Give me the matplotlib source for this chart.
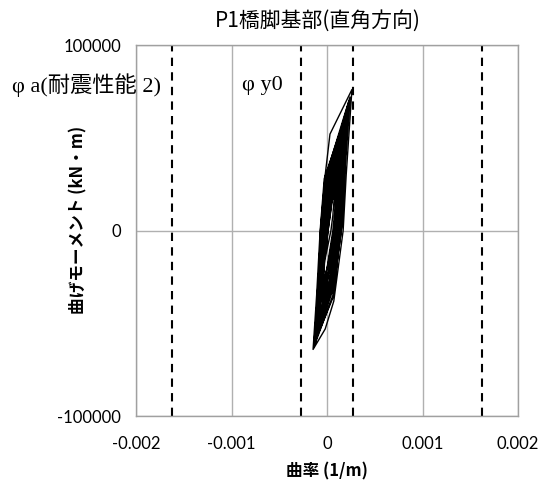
import matplotlib
matplotlib.use('Agg')
import matplotlib.pyplot as plt

plt.rcParams['font.family'] = ['Noto Sans CJK JP', 'DejaVu Sans']

# curvature (1/m) and moment (kN.m) along the response path, read off the loops
# (one row = one half cycle, same length in both lists)
curvature = [
    0.0, 0.00004, 0.00010,
    0.00008, 0.00006, 0.00000, -0.00006,
    -0.00004, -0.00002, 0.00003, 0.00016,
    0.00013, 0.00011, 0.00004, -0.00011,
    -0.00007, -0.00005, 0.00000, 0.00022,
    0.00017, 0.00014, 0.00006, -0.00013,
    -0.00009, -0.00007, -0.00002, 0.00003, 0.00026,
    0.00020, 0.000168, 0.00007, -0.00002, -0.000147,
    -0.00011, -0.000073, -0.00003, 0.00020,
    0.00016, 0.00013, 0.00005, -0.00012,
    -0.00008, -0.00005, 0.00000, 0.00019,
    0.00015, 0.00012, 0.00003, -0.00010,
    -0.00007, -0.00004, 0.00001, 0.00017,
    0.00014, 0.00012, 0.00002, -0.00009,
    -0.00006, -0.00003, 0.00002, 0.00014,
    0.00011, 0.00008, 0.00000, -0.00008,
    -0.00005, -0.00001, 0.00004, 0.00021,
    0.00017, 0.00015, 0.00004, -0.00011,
    -0.00008, -0.00005, 0.00000, 0.00018,
    0.00015, 0.00012, 0.00005, -0.00007,
    -0.00005, -0.00002, 0.00003, 0.00015,
    0.00012, 0.00009, 0.00001, -0.00006,
    -0.00003, 0.00000, 0.00004, 0.00012,
    0.00010, 0.00007, 0.00001, -0.00004,
    -0.00002, 0.00001, 0.00005, 0.00009,
    0.00006, 0.00004, 0.00000, -0.00002,
    0.00001, 0.00006, 0.00018,
    0.00015, 0.00013, 0.00004, -0.00010,
    -0.00007, -0.00004, 0.00001, 0.00020,
    0.00016, 0.00014, 0.00005, -0.00012,
    -0.00008, -0.00006, -0.00001, 0.00023,
    0.00018, 0.00015, 0.00006, -0.00013,
    -0.00010, -0.00006, -0.00002, 0.00016,
    0.00013, 0.00010, 0.00002, -0.00009,
    -0.00006, -0.00003, 0.00002, 0.00013,
    0.00010, 0.00008, 0.00001, -0.00005,
    -0.00008, -0.00005, 0.00000, 0.00021,
    0.00019, 0.00016, 0.00007, -0.00012,
    -0.00009, -0.00006, -0.00001, 0.00024,
    0.00019, 0.00016, 0.00006, -0.00014,
    -0.00010, -0.00007, -0.00002, 0.00019,
    0.00015, 0.00013, 0.00005, -0.00011,
    -0.00007, -0.00003, 0.00001, 0.00008,
]
moment = [
    0, 20000, 32000,
    10000, 0, -20000, -35000,
    -20000, 0, 20000, 52000,
    20000, 0, -25000, -55000,
    -25000, 0, 25000, 68000,
    30000, 0, -30000, -60000,
    -30000, 0, 30000, 52000, 76000,
    30000, 0, -38000, -53000, -64000,
    -35000, 0, 28000, 63000,
    30000, 0, -30000, -58000,
    -30000, 0, 28000, 60000,
    25000, 0, -30000, -54000,
    -28000, 0, 28000, 56000,
    25000, 5000, -30000, -50000,
    -25000, 0, 25000, 48000,
    20000, 0, -28000, -46000,
    -22000, 0, 25000, 65000,
    30000, 5000, -30000, -57000,
    -30000, -5000, 20000, 58000,
    30000, 10000, -15000, -40000,
    -20000, 0, 22000, 50000,
    22000, 0, -25000, -38000,
    -18000, 0, 18000, 40000,
    18000, 0, -18000, -28000,
    -12000, 0, 15000, 28000,
    8000, 0, -10000, -15000,
    0, 20000, 57000,
    28000, 5000, -28000, -52000,
    -26000, 0, 26000, 62000,
    30000, 3000, -28000, -56000,
    -28000, 0, 27000, 70000,
    32000, 0, -32000, -61000,
    -32000, -2000, 25000, 54000,
    24000, 0, -27000, -48000,
    -24000, 0, 24000, 45000,
    18000, 0, -22000, -32000,
    -40000, -10000, 20000, 64000,
    40000, 10000, -35000, -59000,
    -35000, -5000, 30000, 72000,
    35000, 5000, -35000, -63000,
    -35000, -3000, 28000, 60000,
    30000, 0, -30000, -55000,
    -25000, 0, 10000, 20000,
]

phi_a = 0.00162   # 耐震性能2
phi_y0 = 0.00027

x_ticks = [-0.002, -0.001, 0, 0.001, 0.002]
x_labels = ['-0.002', '-0.001', '0', '0.001', '0.002']
y_ticks = [-100000, 0, 100000]
y_labels = ['-100000', '0', '100000']

fig = plt.figure(figsize=(5.47, 4.84), dpi=100)
ax = fig.add_axes([0.249, 0.14, 0.698, 0.767])

ax.set_xlim(-0.002, 0.002)
ax.set_ylim(-100000, 100000)
ax.set_xticks(x_ticks)
ax.set_xticklabels(x_labels)
ax.set_yticks(y_ticks)
ax.set_yticklabels(y_labels)
ax.tick_params(length=0, labelsize=12)
ax.tick_params(axis='x', pad=14)
ax.tick_params(axis='y', pad=11)
for lab in ax.get_xticklabels() + ax.get_yticklabels():
    lab.set_family('Lato')

ax.grid(True, color='#b0b0b0', linewidth=1.0)
ax.set_axisbelow(True)
for s in ax.spines.values():
    s.set_color('#a0a0a0')
    s.set_linewidth(1.0)

for v in [-phi_a, -phi_y0, phi_y0, phi_a]:
    ax.axvline(v, color='black', linestyle=(0, (4, 3)), linewidth=1.5)

ax.plot(curvature, moment, color='black', linewidth=1.0)

serif = ['Liberation Serif', 'Noto Sans CJK JP']
fig.text(0.022, 0.824, 'φ a(耐震性能 2)', family=serif, fontsize=16, va='center')
fig.text(0.442, 0.824, 'φ y0', family=serif, fontsize=16, va='center')

fig.text(318 / 547, 1 - 21 / 484, 'P1橋脚基部(直角方向)', fontsize=15,
         ha='center', va='center')
ax.set_xlabel('曲率 (1/m)', fontsize=12, fontweight='bold', labelpad=8)
ax.set_ylabel('曲げモーメント (kN・m)', fontsize=12, fontweight='bold')
ax.yaxis.set_label_coords(-0.128, 0.528)

fig.savefig('out.png', dpi=100, facecolor='white')
